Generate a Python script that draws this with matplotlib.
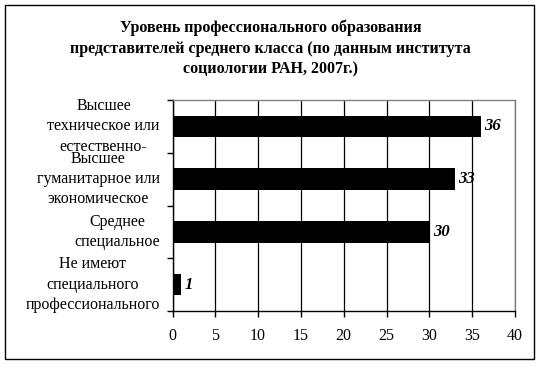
import matplotlib
matplotlib.use("Agg")
import matplotlib.pyplot as plt
from matplotlib.patches import Rectangle

title = "Уровень профессионального образования\nпредставителей среднего класса (по данным института\nсоциологии РАН, 2007г.)"
categories = [
    "Высшее\nтехническое или\nестественно-",
    "Высшее\nгуманитарное или\nэкономическое",
    "Среднее\nспециальное",
    "Не имеют\nспециального\nпрофессионального",
]
values = [36, 33, 30, 1]
xticks = [0, 5, 10, 15, 20, 25, 30, 35, 40]

plt.rcParams['font.family'] = ['Liberation Serif', 'DejaVu Serif']

fig = plt.figure(figsize=(5.41, 3.66), dpi=100)
fig.patch.set_facecolor('white')
fig.patches.append(Rectangle((5/541, 7/366), 529/541, 354/366, transform=fig.transFigure,
                             fill=False, edgecolor='black', linewidth=1.0))

ax = fig.add_axes([172.5/541, 55/366, (515-172.5)/541, (311-100)/366])
pos = list(range(len(categories)))
ax.barh(pos, values, height=0.41, color='black', zorder=3)
ax.set_ylim(len(categories) - 0.5, -0.5)
ax.set_xlim(0, 40)
ax.set_xticks(xticks)
ax.set_xticklabels([str(t) for t in xticks], fontsize=11.5)
ax.set_yticks([i - 0.5 for i in range(len(categories) + 1)])
ax.set_yticklabels([])
ax.tick_params(axis='x', direction='out', length=4, width=1, pad=8, colors='black')
ax.tick_params(axis='y', direction='out', length=4, width=1)
ax.grid(axis='x', color='black', linewidth=0.9, zorder=0)
ax.set_axisbelow(True)
for s in ['top', 'right']:
    ax.spines[s].set_color('#808080')
for s in ['left', 'bottom']:
    ax.spines[s].set_color('black')
for sp in ax.spines.values():
    sp.set_linewidth(1)

ytr = ax.get_yaxis_transform()
for i, c in enumerate(categories):
    ax.text(-0.037, i, c, transform=ytr, ha='right', va='center', multialignment='center',
            fontsize=11.5, linespacing=1.36)
for i, v in enumerate(values):
    ax.text(v + 0.4, i, str(v), ha='left', va='center', fontsize=12,
            fontweight='bold', fontstyle='italic', zorder=4)

fig.text(0.5, 1 - 48.5/366, title, ha='center', va='center',
         fontsize=11.5, fontweight='bold', linespacing=1.38)

fig.savefig('out.png', dpi=100)
